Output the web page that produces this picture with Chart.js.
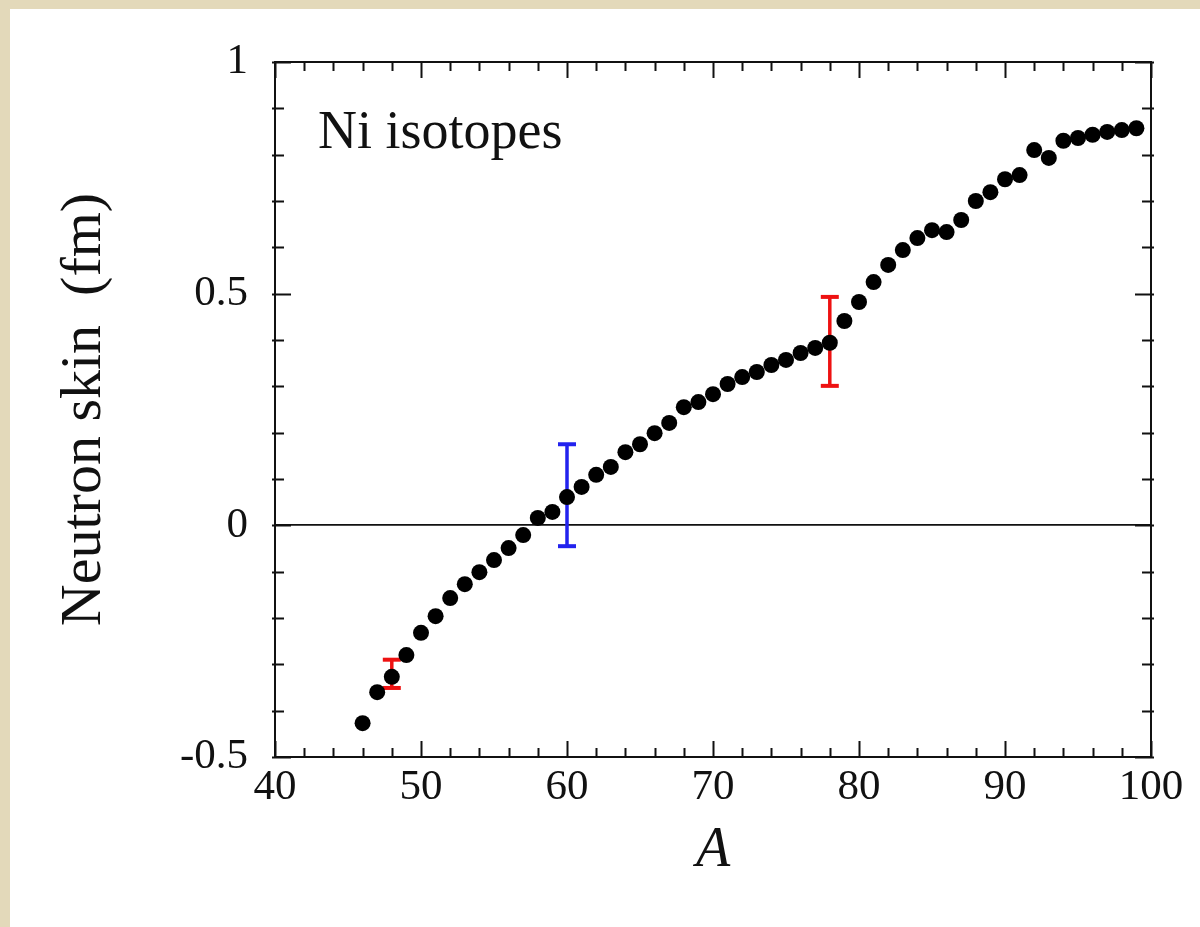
<!DOCTYPE html>
<html>
<head>
<meta charset="utf-8">
<script src="https://cdn.jsdelivr.net/npm/chart.js@4"></script>
<style>
  html, body { margin:0; padding:0; }
  body { width:1200px; height:927px; background:#e3d9ba; position:relative; overflow:hidden; }
  #card { position:absolute; left:10px; top:9px; width:1190px; height:918px; background:#ffffff; }
  canvas { display:block; }
</style>
</head>
<body>
<div id="card"><canvas id="c" width="1190" height="918"></canvas></div>
<script>
// ---- data ----
const massNumbers = [46,47,48,49,50,51,52,53,54,55,56,57,58,59,60,61,62,63,64,65,66,67,68,69,70,71,72,
  73,74,75,76,77,78,79,80,81,82,83,84,85,86,87,88,89,90,91,92,93,94,95,96,97,98,99];
const neutronSkin = [-0.427,-0.360,-0.327,-0.280,-0.232,-0.196,-0.157,-0.127,-0.101,-0.075,-0.049,-0.021,
  0.016,0.029,0.061,0.083,0.109,0.126,0.158,0.175,0.199,0.221,0.255,0.266,0.283,0.305,0.320,
  0.331,0.346,0.357,0.372,0.383,0.394,0.441,0.482,0.525,0.562,0.594,0.620,0.637,0.633,0.659,
  0.700,0.719,0.747,0.756,0.810,0.793,0.830,0.836,0.843,0.849,0.853,0.857];
const errorA     = [48, 60, 78];
const errorLow   = [-0.351, -0.045, 0.301];
const errorHigh  = [-0.290, 0.175, 0.493];
const errorColor = ['#ee1111', '#2222ee', '#ee1111'];
const xTickValues = [40, 50, 60, 70, 80, 90, 100];
const xTickLabels = ['40', '50', '60', '70', '80', '90', '100'];
const yTickValues = [-0.5, 0, 0.5, 1];
const yTickLabels = ['-0.5', '0', '0.5', '1'];
const annotationText = 'Ni isotopes';

const SERIF = "'Liberation Serif', 'DejaVu Serif', serif";

const datasets = [{
  label: 'Ni',
  data: massNumbers.map((a, i) => ({ x: a, y: neutronSkin[i] })),
  backgroundColor: '#000',
  borderWidth: 0,
  pointRadius: 8,
  pointHoverRadius: 8,
  showLine: false
}];
errorA.forEach((a, i) => {
  datasets.push({
    label: 'err' + a,
    data: [{ x: a, y: errorHigh[i] }, { x: a, y: errorLow[i] }],
    showLine: true,
    borderColor: errorColor[i],
    borderWidth: 3.5,
    pointStyle: 'line',
    pointRadius: 9,
    pointBorderWidth: 4,
    pointBorderColor: errorColor[i],
    pointBackgroundColor: errorColor[i]
  });
});

const frameTicks = {
  id: 'frameTicks',
  afterDraw(chart) {
    const { ctx, chartArea: ca, scales: { x, y } } = chart;
    ctx.save();
    ctx.strokeStyle = '#111';
    ctx.lineWidth = 2;
    ctx.strokeRect(ca.left, ca.top, ca.right - ca.left, ca.bottom - ca.top);
    ctx.lineWidth = 2;
    ctx.beginPath();
    for (let v = 40; v <= 100; v += 2) {
      const px = Math.round(x.getPixelForValue(v)) + 0.5;
      const len = (v % 10 === 0) ? 16 : 9;
      ctx.moveTo(px, ca.bottom); ctx.lineTo(px, ca.bottom - len);
      ctx.moveTo(px, ca.top); ctx.lineTo(px, ca.top + len);
    }
    for (let k = -5; k <= 10; k++) {
      const v = k / 10;
      const py = Math.round(y.getPixelForValue(v)) + 0.5;
      const len = (k % 5 === 0) ? 16 : 9;
      ctx.moveTo(ca.left - 3, py); ctx.lineTo(ca.left + len, py);
      ctx.moveTo(ca.right + 3, py); ctx.lineTo(ca.right - len, py);
    }
    ctx.stroke();
    ctx.fillStyle = '#111';
    ctx.font = "54px " + SERIF;
    ctx.textBaseline = 'alphabetic';
    ctx.textAlign = 'left';
    ctx.fillText(annotationText, ca.left + 43, ca.top + 86);
    ctx.restore();
  }
};

new Chart(document.getElementById('c'), {
  type: 'scatter',
  data: { datasets },
  options: {
    responsive: false,
    animation: false,
    devicePixelRatio: 1,
    layout: { padding: { left: 0, top: 53, right: 49, bottom: 0 } },
    plugins: { legend: { display: false }, tooltip: { enabled: false } },
    scales: {
      x: {
        type: 'linear', min: 40, max: 100,
        afterFit(s) { s.height = 170; },
        afterBuildTicks(s) { s.ticks = xTickValues.map(v => ({ value: v })); },
        grid: { display: false, drawTicks: false },
        border: { display: false },
        ticks: {
          color: '#111', padding: 5,
          font: { family: SERIF, size: 43 },
          maxRotation: 0, autoSkip: false,
          callback: (v) => { const i = xTickValues.indexOf(v); return i >= 0 ? xTickLabels[i] : ''; }
        },
        title: {
          display: true, text: 'A', color: '#111',
          font: { family: SERIF, size: 56, style: 'italic' },
          padding: { top: 0, bottom: 42 }
        }
      },
      y: {
        type: 'linear', min: -0.5, max: 1,
        afterFit(s) { s.width = 265; },
        afterBuildTicks(s) { s.ticks = yTickValues.map(v => ({ value: v })); },
        grid: {
          display: true, drawTicks: false, drawOnChartArea: true,
          color: (c) => (c.tick && c.tick.value === 0) ? '#111' : 'rgba(0,0,0,0)',
          lineWidth: 1.8
        },
        border: { display: false },
        ticks: {
          color: '#111', padding: 27,
          font: { family: SERIF, size: 43 },
          autoSkip: false,
          callback: (v) => { const i = yTickValues.indexOf(v); return i >= 0 ? yTickLabels[i] : ''; }
        },
        title: {
          display: true, text: 'Neutron skin  (fm)', color: '#111',
          font: { family: SERIF, size: 58 },
          padding: { top: 40, bottom: 0 }
        }
      }
    }
  },
  plugins: [frameTicks]
});
</script>
</body>
</html>
